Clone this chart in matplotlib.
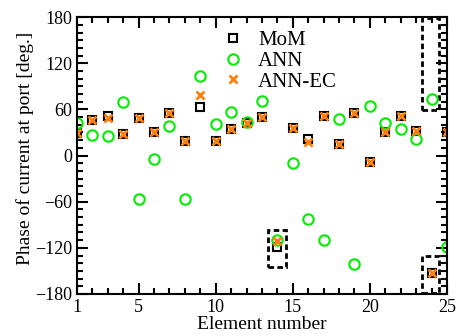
import numpy as np
import matplotlib.pyplot as plt
from matplotlib.patches import Rectangle
from matplotlib.ticker import MultipleLocator

plt.rcParams['font.family'] = ['Liberation Serif', 'DejaVu Serif']

# phase of port current per element [deg.]
element = np.arange(1, 26)
mom = [29, 46, 52, 27.5, 49, 30, 55, 19, 63.5, 19.5, 35, 42.7, 50,
       -119, 36, 21, 51.4, 15, 56, -8, 30.6, 51.8, 32.3, -153, 30.2]
ann = [42.6, 26.7, 25, 70, -56.6, -4.6, 38.4, -57, 103.8, 40.5, 57, 44, 70.5,
       -110, -9.4, -83, -110.3, 47, -141, 64.8, 42.3, 34, 21.5, 73, -118.6]
ann_ec = [29, 46, 48.8, 27.5, 49, 30, 55, 19, 78.7, 19.5, 35, 42.7, 50,
          -111.2, 36, 17.2, 51.4, 15, 56, -8, 30.6, 51.8, 32.3, -153, 30.2]

# highlighted regions (x0, y0, width, height)
boxes = [(13.4, -145, 1.15, 48), (23.4, -179, 1.1, 49), (23.4, 59, 1.1, 120)]

fig = plt.figure(figsize=(4.58, 3.36), dpi=100)
ax = fig.add_axes([0.168, 0.125, 0.808, 0.824])

ax.plot(element, mom, 's', ms=5.5, mfc='none', mec='black', mew=1.5,
        linestyle='none', label='MoM')
ax.plot(element, ann, 'o', ms=7.5, mfc='none', mec='#00ee00', mew=1.5,
        linestyle='none', label='ANN')
ax.plot(element, ann_ec, 'x', ms=5.5, mec='#ff7f0e', mew=2,
        linestyle='none', label='ANN-EC')

for x0, y0, w, h in boxes:
    ax.add_patch(Rectangle((x0, y0), w, h, fill=False, ec='black',
                           lw=2, ls=(0, (2, 1.2))))

ax.set_xlim(1, 25)
ax.set_ylim(-180, 180)
ax.set_xticks([1, 5, 10, 15, 20, 25])
ax.set_yticks(np.arange(-180, 181, 60))
ax.xaxis.set_minor_locator(MultipleLocator(1))
ax.yaxis.set_minor_locator(MultipleLocator(10))
ax.tick_params(which='both', direction='in', top=True, right=True,
               width=1.5, labelsize=13)
ax.tick_params(which='major', length=8)
ax.tick_params(which='minor', length=4)
for s in ax.spines.values():
    s.set_linewidth(1.5)

ax.set_xlabel('Element number', fontsize=14, labelpad=0)
ax.set_ylabel('Phase of current at port [deg.]', fontsize=14)
ax.yaxis.set_label_coords(-0.117, 0.525)

ax.legend(loc='upper left', bbox_to_anchor=(0.357, 1.0), frameon=False,
          fontsize=15, handlelength=1.0, handletextpad=0.7,
          labelspacing=0.05, borderpad=0.15)

fig.savefig('out.png', dpi=100)
